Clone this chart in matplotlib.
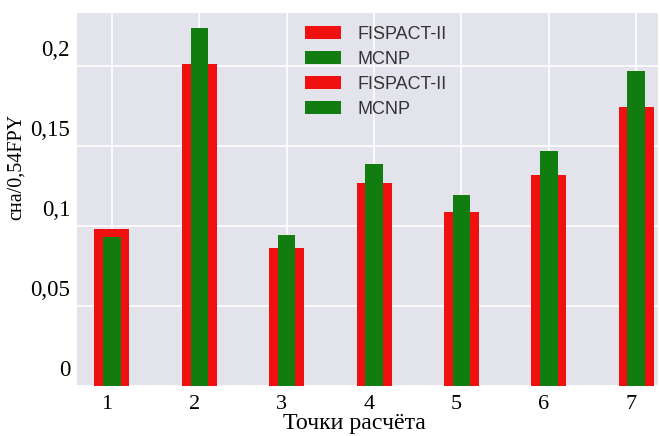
import matplotlib
matplotlib.use("Agg")
import matplotlib.pyplot as plt
import matplotlib.transforms as mtransforms
import numpy as np

points = [1, 2, 3, 4, 5, 6, 7]
fispact = [0.0983, 0.201, 0.086, 0.127, 0.109, 0.1317, 0.1746]
mcnp = [0.093, 0.2235, 0.0946, 0.139, 0.1196, 0.147, 0.1967]
yticks = [0, 0.05, 0.1, 0.15, 0.2]
ytick_labels = ["0", "0,05", "0,1", "0,15", "0,2"]
legend_labels = ["FISPACT-II", "MCNP", "FISPACT-II", "MCNP"]

RED = "#f01010"
GREEN = "#117d11"
BG = "#e3e3ec"

fig = plt.figure(figsize=(6.6, 4.36), dpi=100)
ax = fig.add_axes([0.1167, 0.1147, 0.997 - 0.1167, 0.970 - 0.1147])
ax.set_facecolor(BG)

r = ax.bar(points, fispact, width=0.4, color=RED, zorder=2)
g = ax.bar(points, mcnp, width=0.2, color=GREEN, zorder=3)

ax.set_xlim(0.6, 7.25)
ax.set_ylim(0, 0.233)
ax.set_xticks(points)
ax.set_xticklabels([str(p) for p in points])
ax.set_yticks(yticks)
ax.set_yticklabels(ytick_labels)
ax.grid(True, color="white", linewidth=1.2, zorder=0)
ax.set_axisbelow(True)
for s in ax.spines.values():
    s.set_visible(False)
ax.tick_params(axis="x", length=0, pad=4)
ax.tick_params(axis="y", length=0, pad=5)

serif = "Liberation Serif"
for lab in ax.get_xticklabels():
    lab.set_fontfamily(serif)
    lab.set_fontsize(16)
    lab.set_transform(lab.get_transform() + mtransforms.ScaledTranslation(-5/100, -3/100, fig.dpi_scale_trans))
for lab in ax.get_yticklabels():
    lab.set_fontfamily(serif)
    lab.set_fontsize(16.5)
    lab.set_transform(lab.get_transform() + mtransforms.ScaledTranslation(0, 18/100, fig.dpi_scale_trans))

ax.set_ylabel("сна/0,54FPY", fontfamily=serif, fontsize=14.5)
ax.yaxis.set_label_coords(-0.0878, 0.587)
ax.set_xlabel("Точки расчёта", fontfamily=serif, fontsize=17.2)
ax.xaxis.set_label_coords(0.477, -0.072)

leg = ax.legend([r, g, r, g], legend_labels, loc="upper left",
                bbox_to_anchor=(0.365, 1.01), frameon=False,
                prop={"family": "Liberation Sans", "size": 13},
                handlelength=2.0, handleheight=0.75, labelspacing=0.45,
                handletextpad=0.9)
for t in leg.get_texts():
    t.set_color("#333333")

fig.savefig("out.png", dpi=100)
